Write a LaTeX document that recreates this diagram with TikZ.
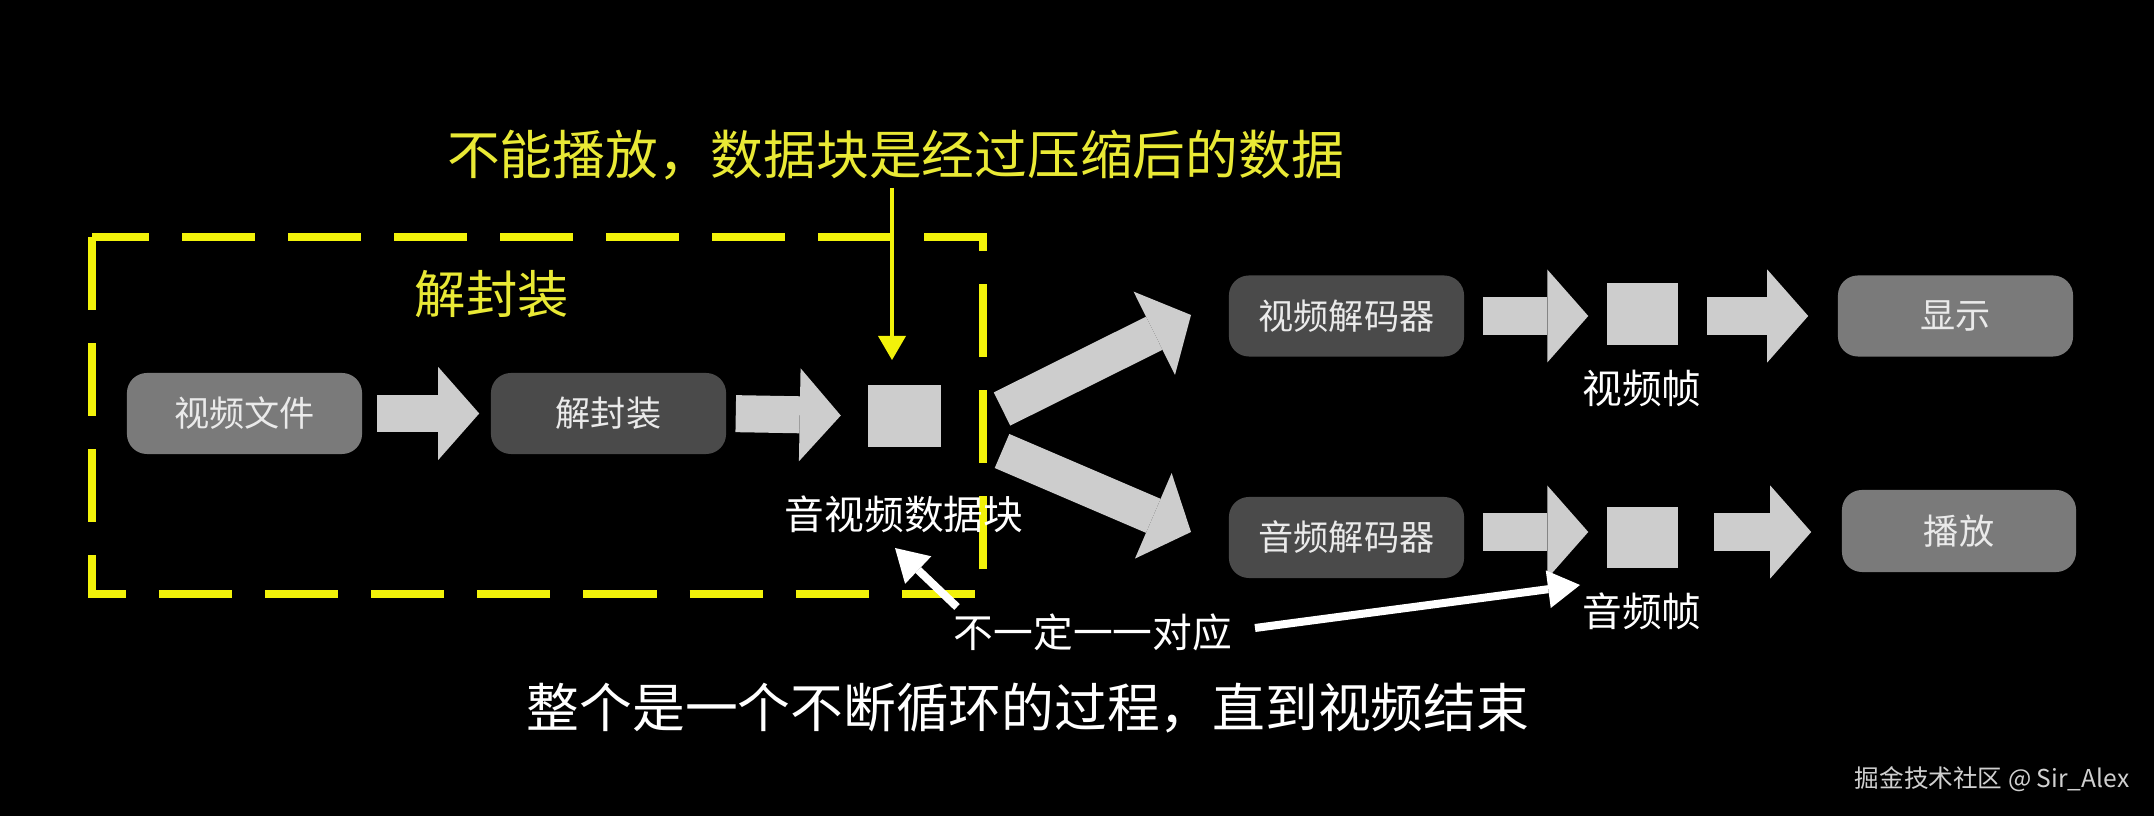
\documentclass[tikz,border=0pt]{standalone}
\usepackage{fontspec}
\usetikzlibrary{arrows.meta}
\newfontfamily\cjk{Noto Sans CJK SC}
\definecolor{bg}{HTML}{000000}
\definecolor{midgray}{HTML}{7A7A7A}
\definecolor{darkgray}{HTML}{4A4A4A}
\definecolor{arrowgray}{HTML}{CDCDCD}
\definecolor{boxtext}{HTML}{EAEAEA}
\definecolor{yline}{HTML}{F2F20A}
\definecolor{ytext}{HTML}{E9E935}
\definecolor{wm}{HTML}{D0D0D0}
\tikzset{
  box/.style={rounded corners=0.2cm, minimum width=2.35cm, minimum height=0.81cm,
    inner sep=0pt, text=boxtext, font=\cjk\fontsize{10}{12}\selectfont},
  lightbox/.style={box, fill=midgray},
  darkbox/.style={box, fill=darkgray},
  sqbox/.style={fill=arrowgray, minimum width=0.72cm, minimum height=0.62cm, inner sep=0pt},
  blockarrow/.style={draw=arrowgray, line width=0.37cm,
    -{Triangle[width=0.93cm,length=0.41cm,line width=0pt]}},
  whitearrow/.style={draw=white, line width=0.08cm,
    -{Triangle[width=0.38cm,length=0.32cm,line width=0pt]}},
  label/.style={text=white, inner sep=0pt, font=\cjk\fontsize{11.3}{13}\selectfont},
  bigtext/.style={inner sep=0pt, font=\cjk\fontsize{15}{18}\selectfont},
}
\begin{document}
\begin{tikzpicture}[x=0.01cm,y=-0.01cm]
\useasboundingbox (0,0) rectangle (2154,816);
\fill[bg] (0,0) rectangle (2154,816);

% dashed demux frame
\draw[yline, line width=0.08cm, dash pattern=on 0.73cm off 0.33cm]
  (92,237) rectangle (983,594);
\node[bigtext, text=ytext, font=\cjk\fontsize{14.6}{18}\selectfont] (demuxlbl) at (492,294) {解封装};

% left row
\node[lightbox] (vfile) at (244.5,413.5) {视频文件};
\node[darkbox] (demux) at (608.5,413.5) {解封装};
\node[sqbox] (sq1) at (904.5,416) {};
\node[label] (avdata) at (904,514) {音视频数据块};

\draw[blockarrow, shorten <=0.14cm, shorten >=0.11cm] (vfile.east) -- (demux.west);
\draw[blockarrow, shorten <=0.09cm, shorten >=0.27cm] (demux.east) -- (sq1.west);

% top note
\node[bigtext, text=ytext] (topnote) at (895.5,155) {不能播放，数据块是经过压缩后的数据};
\coordinate (ya0) at (892,188);
\coordinate (ya1) at (892,360);
\draw[yline, line width=0.04cm, -{Triangle[width=0.28cm,length=0.24cm,line width=0pt]}] (ya0) -- (ya1);

% split arrows
\coordinate (up0) at (1002,409);
\coordinate (up1) at (1191,315);
\coordinate (lo0) at (1002,451);
\coordinate (lo1) at (1191,532);
\draw[blockarrow] (up0) -- (up1);
\draw[blockarrow] (lo0) -- (lo1);

% video row
\node[darkbox] (vdec) at (1346.5,316) {视频解码器};
\node[sqbox, minimum width=0.71cm] (sq2) at (1642.5,314) {};
\node[lightbox] (show) at (1955.5,316) {显示};
\node[label] (vfr) at (1642,388) {视频帧};
\draw[blockarrow, shorten <=0.18cm, shorten >=0.18cm] (vdec.east) -- (vdec.east -| sq2.west);
\draw[blockarrow, shorten <=0.28cm, shorten >=0.29cm] (sq2.east |- vdec.east) -- (show.west);

% audio row
\node[darkbox] (adec) at (1346.5,537.5) {音频解码器};
\node[sqbox, minimum width=0.71cm, minimum height=0.61cm] (sq3) at (1642.5,537.5) {};
\node[lightbox, minimum width=2.34cm, minimum height=0.82cm] (play) at (1959,531) {播放};
\node[label] (afr) at (1642,611) {音频帧};
\coordinate (arow) at ([yshift=0.055cm]adec.east);
\draw[blockarrow, shorten <=0.18cm, shorten >=0.18cm] (arow) -- (arow -| sq3.west);
\draw[blockarrow, shorten <=0.35cm, shorten >=0.30cm] (arow -| sq3.east) -- (arow -| play.west);

% note with white arrows
\node[label] (note) at (1093,632) {不一定一一对应};
\coordinate (wl0) at (957,607);
\coordinate (wl1) at (895,548);
\coordinate (wr0) at (1255,628);
\coordinate (wr1) at (1580,585);
\draw[whitearrow] (wl0) -- (wl1);
\draw[whitearrow] (wr0) -- (wr1);

% bottom text
\node[bigtext, text=white] (bottom) at (1028,708) {整个是一个不断循环的过程，直到视频结束};

% credit
\node[inner sep=0pt, anchor=east, text=wm, font=\cjk\fontsize{7}{9}\selectfont] (credit) at (2130,779) {掘金技术社区 @ Sir\_Alex};
\end{tikzpicture}
\end{document}
